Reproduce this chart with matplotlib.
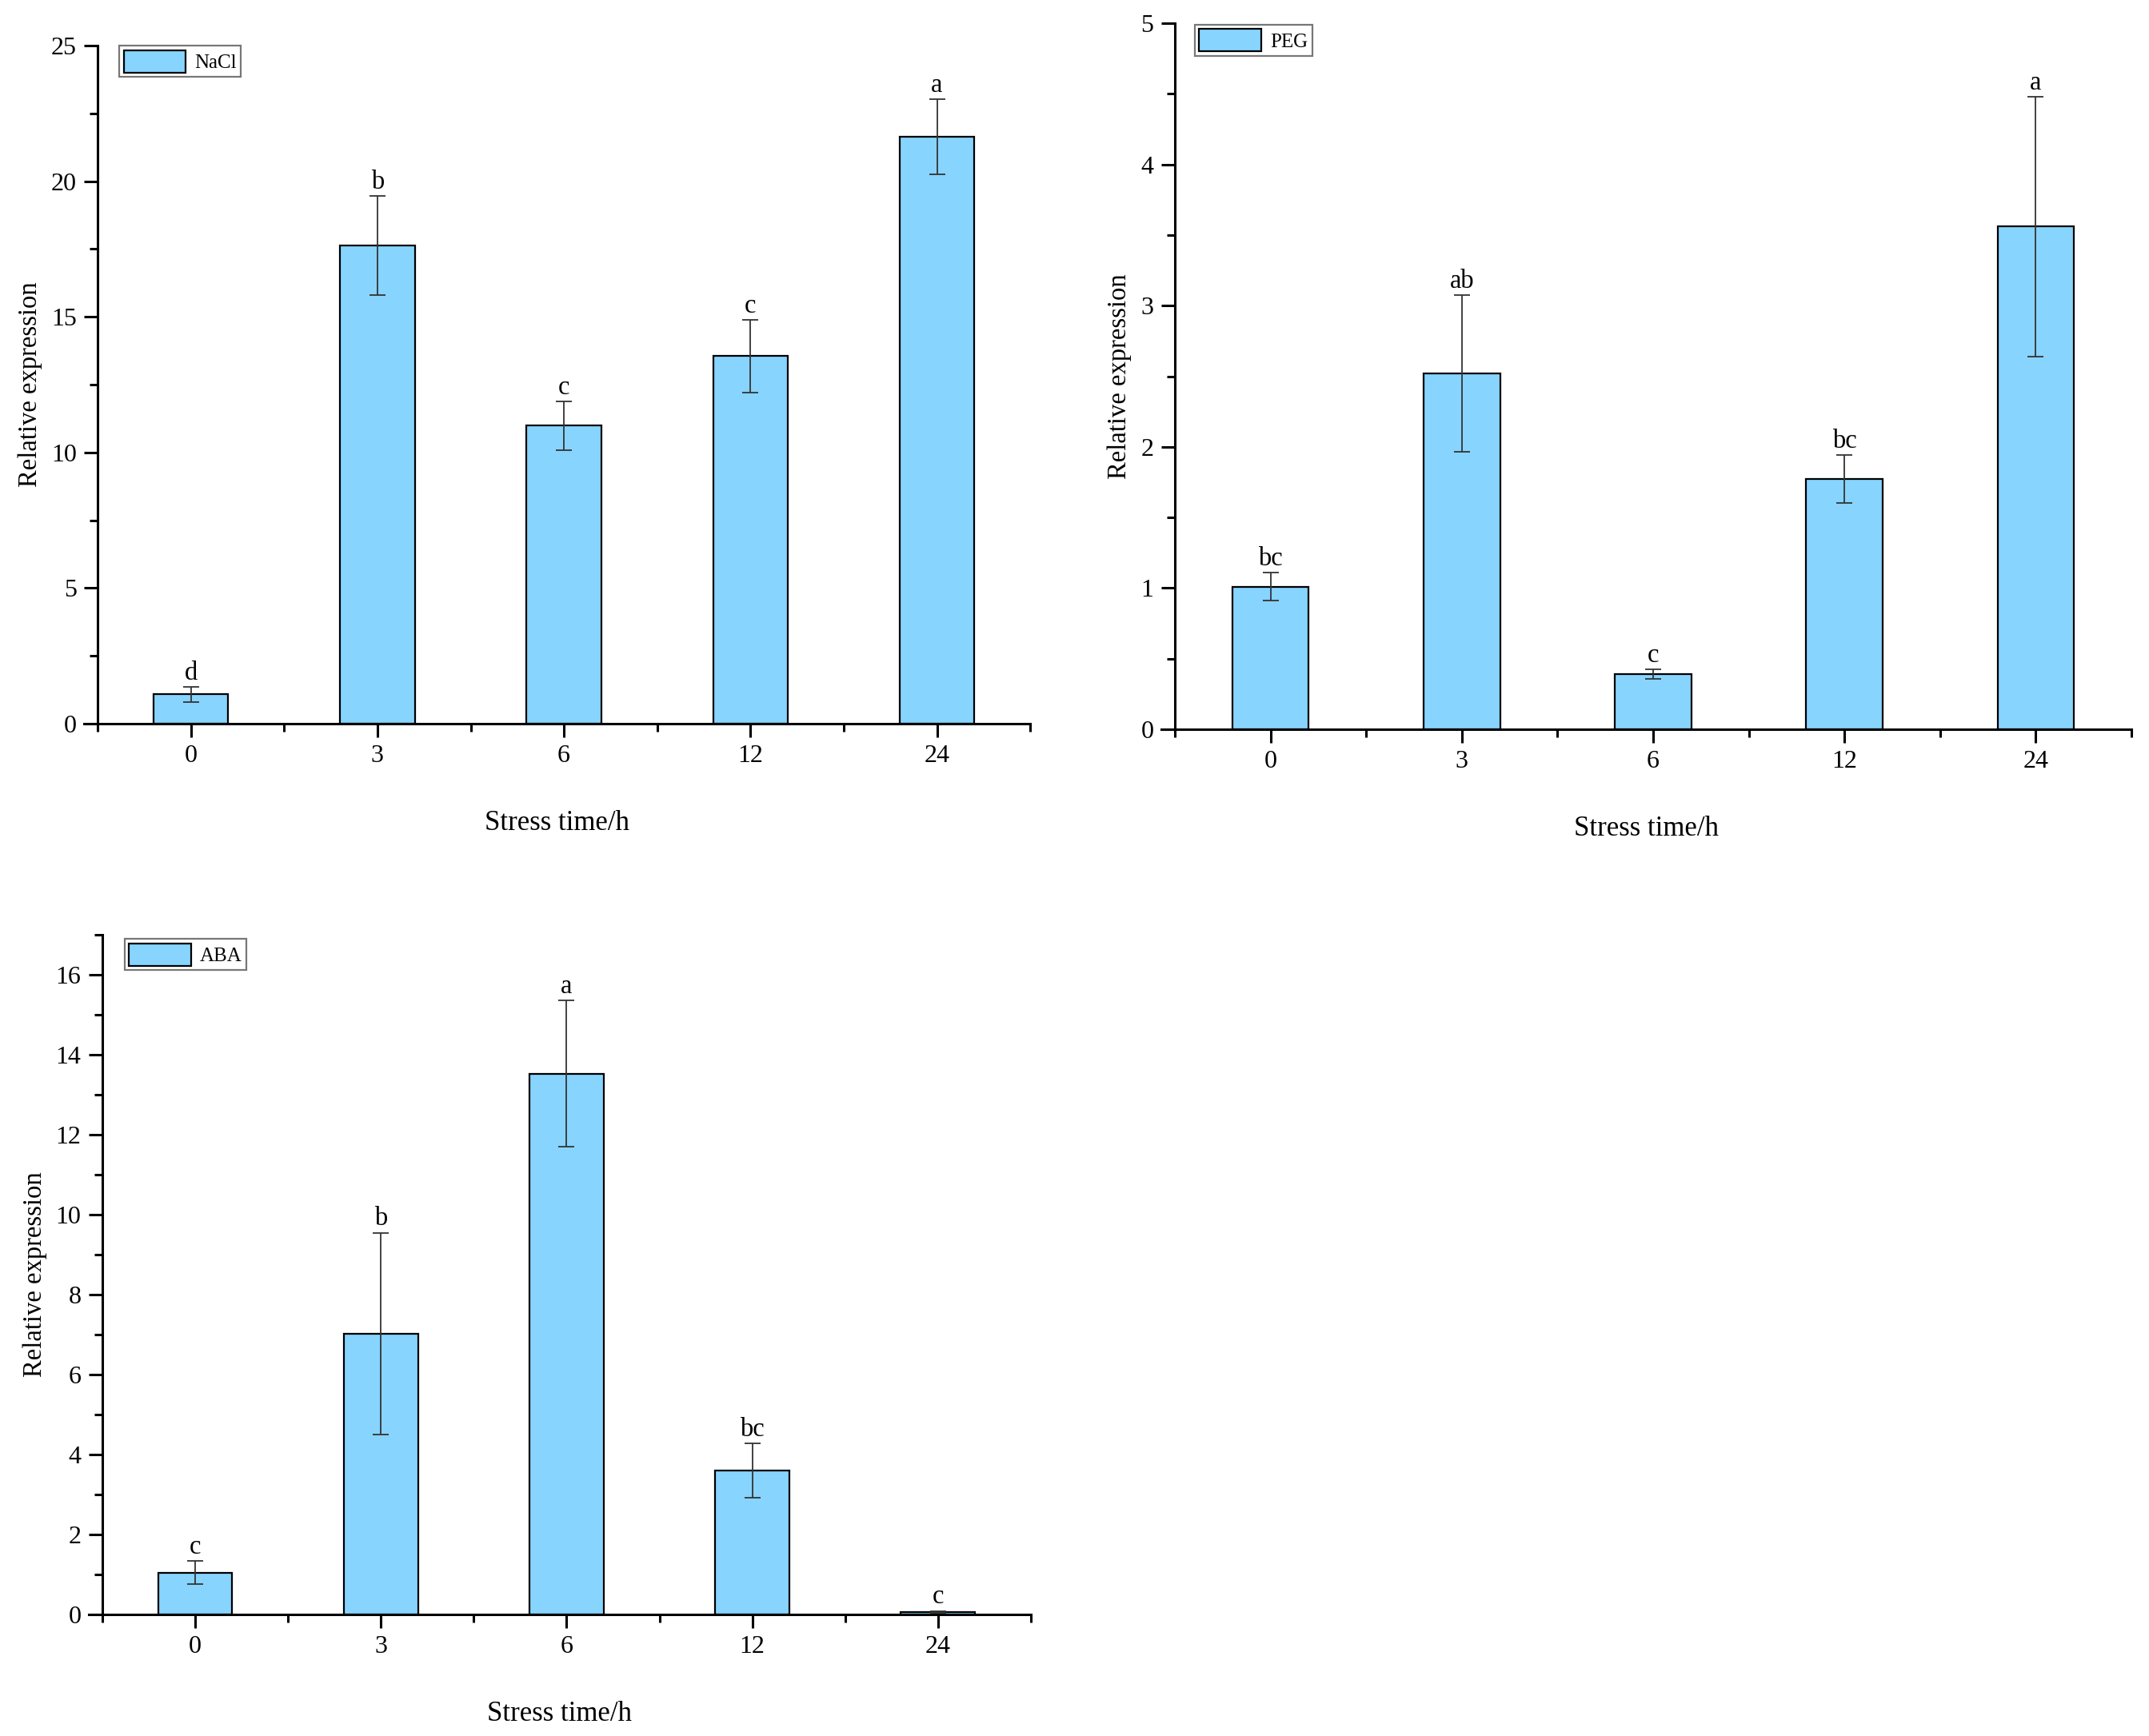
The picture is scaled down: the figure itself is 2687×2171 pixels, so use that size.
import matplotlib
matplotlib.use("Agg")
import matplotlib.pyplot as plt
from matplotlib.ticker import MultipleLocator, FixedLocator

plt.rcParams['font.family'] = ['Liberation Serif', 'DejaVu Serif']

times = ["0", "3", "6", "12", "24"]

nacl_mean = [1.08, 17.62, 10.99, 13.55, 21.64]
nacl_err = [0.29, 1.83, 0.89, 1.34, 1.39]
nacl_sig = ["d", "b", "c", "c", "a"]

peg_mean = [1.01, 2.52, 0.39, 1.77, 3.56]
peg_err = [0.10, 0.555, 0.035, 0.17, 0.92]
peg_sig = ["bc", "ab", "c", "bc", "a"]

aba_mean = [1.05, 7.03, 13.53, 3.60, 0.07]
aba_err = [0.29, 2.52, 1.83, 0.68, 0.02]
aba_sig = ["c", "b", "a", "bc", "c"]

bar_col = '#87D4FF'


def panel(ax, mean, err, sig, name, ymax, major, minor, leg_pos):
    x = list(range(len(times)))
    ax.bar(x, mean, 0.4, color=bar_col, edgecolor='black', linewidth=1.6,
           zorder=2, label=name)
    ax.errorbar(x, mean, yerr=err, fmt='none', ecolor='#333333',
                elinewidth=1.3, capsize=7, capthick=1.3, zorder=3)
    for i in x:
        ax.annotate(sig[i], (i, mean[i] + err[i]), xytext=(0, 1.5),
                    textcoords='offset points', ha='center', va='bottom',
                    fontsize=23.5)
    ax.set_xlim(-0.573, 4.5)
    ax.set_ylim(0, ymax)
    for s in ['top', 'right']:
        ax.spines[s].set_visible(False)
    ax.spines['left'].set_position(('data', -0.5))
    for s in ['left', 'bottom']:
        ax.spines[s].set_linewidth(2.2)
    ax.set_xticks(x)
    ax.set_xticklabels(times)
    ax.xaxis.set_minor_locator(FixedLocator([-0.5, 0.5, 1.5, 2.5, 3.5, 4.5]))
    ax.yaxis.set_major_locator(MultipleLocator(major))
    ax.yaxis.set_minor_locator(MultipleLocator(minor))
    ax.tick_params(which='major', direction='out', length=12, width=2.2,
                   labelsize=23, pad=7)
    ax.tick_params(which='minor', direction='out', length=7, width=2.2)
    ax.set_xlabel('Stress time/h', fontsize=25, labelpad=38)
    ax.set_ylabel('Relative expression', fontsize=23.5, labelpad=8)
    leg = ax.legend(loc='upper left', bbox_to_anchor=leg_pos, borderaxespad=0,
                    fontsize=18, handlelength=3.1, handleheight=1.35,
                    handletextpad=0.45, borderpad=0.22, fancybox=False,
                    edgecolor='#777777', framealpha=1)
    leg.get_frame().set_linewidth(1.6)


fig = plt.figure(figsize=(26.87, 21.71), dpi=100)
ax1 = fig.add_axes([0.0391, 0.5831, 0.4403, 0.3906])
ax2 = fig.add_axes([0.5402, 0.5799, 0.4516, 0.4067])
ax3 = fig.add_axes([0.0413, 0.0700, 0.4384, 0.3915])

panel(ax1, nacl_mean, nacl_err, nacl_sig, 'NaCl', 25, 5, 2.5, (0.0372, 1.0))
panel(ax2, peg_mean, peg_err, peg_sig, 'PEG', 5, 1, 0.5, (0.035, 0.998))
panel(ax3, aba_mean, aba_err, aba_sig, 'ABA', 17, 2, 1, (0.0382, 0.994))

fig.savefig('out.png', dpi=100, facecolor='white')
